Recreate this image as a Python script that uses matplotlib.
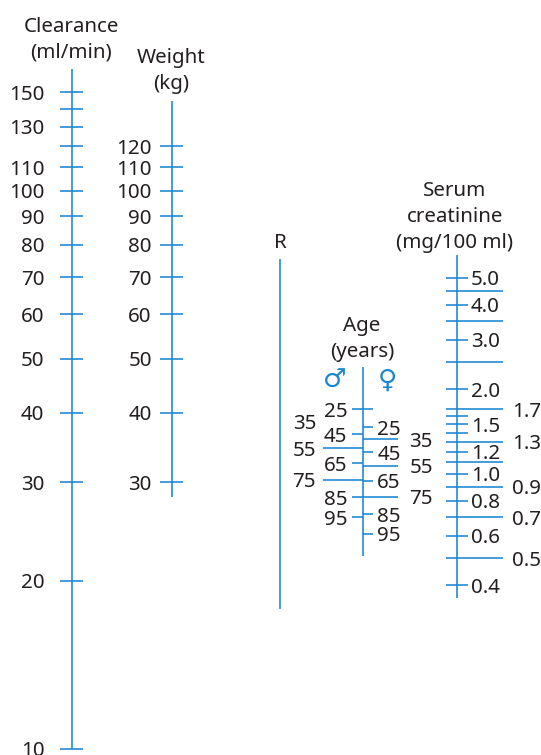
import numpy as np
import matplotlib
matplotlib.use('Agg')
import matplotlib.pyplot as plt

# ---- values on the nomogram scales ----
clearance_ticks = [10, 20, 30, 40, 50, 60, 70, 80, 90, 100, 110, 120, 130, 140, 150]
clearance_labels = ['10', '20', '30', '40', '50', '60', '70', '80', '90', '100',
                    '110', '', '130', '', '150']
clearance_span = (10, 165)

weight_ticks = [30, 40, 50, 60, 70, 80, 90, 100, 110, 120]
weight_span = (28.3, 145)

male_ticks = [25, 45, 65, 85, 95]
male_cross = [25]
male_mid = [35, 55, 75]
male_mid_lines = [55, 75]
female_ticks = [25, 45, 65, 85, 95]
female_mid = [35, 55, 75]
age_span = (-15, 112)

creat_ticks = [5.0, 4.0, 3.0, 2.0, 1.6, 1.5, 1.4, 1.2, 1.0, 0.8, 0.6, 0.4]
creat_labels = ['5.0', '4.0', '3.0', '2.0', '', '1.5', '', '1.2', '1.0', '0.8', '0.6', '0.4']
creat_mid = [4.5, 3.5, 2.5, 1.7, 1.3, 1.1, 0.9, 0.7, 0.5]
creat_mid_labels = ['', '', '', '1.7', '1.3', '', '0.9', '0.7', '0.5']
creat_span = (0.36, 6.0)

# ---- look ----
W, H = 541, 755
BLUE = '#1a86cf'
INK = '#231f20'
LW = 1.15
FS = 14.8
plt.rcParams['font.family'] = ['Noto Sans', 'DejaVu Sans']

fig = plt.figure(figsize=(W / 100, H / 100), dpi=100)

# pixel layer for titles and the blank R line
ax0 = fig.add_axes([0, 0, 1, 1])
ax0.set_xlim(0, W)
ax0.set_ylim(H, 0)
ax0.axis('off')


def scale_axes(fwd, inv, a, b, **scale_kw):
    # full-figure axes whose y scale puts value a[0] at pixel row a[1], b[0] at b[1]
    ax = fig.add_axes([0, 0, 1, 1])
    ax.set_yscale(**scale_kw)
    ax.set_xlim(0, W)
    (v1, p1), (v2, p2) = a, b
    k = (fwd(v2) - fwd(v1)) / (p2 - p1)
    ax.set_ylim(inv(fwd(v1) + (H - p1) * k), inv(fwd(v1) - p1 * k))
    ax.axis('off')
    ax.patch.set_visible(False)
    return ax


log10 = np.log10
pow10 = lambda f: 10 ** f
age_fwd = lambda a: -np.log10(187 - np.asarray(a, float))
age_inv = lambda f: 187 - 10 ** (-np.asarray(f, float))

ax_cw = scale_axes(log10, pow10, (10, 748.7), (150, 92.3), value='log')
ax_cr = scale_axes(log10, pow10, (0.4, 585.3), (5.0, 277.7), value='log')
ax_m = scale_axes(age_fwd, age_inv, (25, 409.1), (95, 517.1),
                  value='function', functions=(age_fwd, age_inv))
ax_f = scale_axes(age_fwd, age_inv, (25, 427.5), (95, 533.8),
                  value='function', functions=(age_fwd, age_inv))

txt = dict(color=INK, fontsize=FS, va='center_baseline')
ln = dict(color=BLUE, lw=LW)

# clearance
ax_cw.vlines(72, *clearance_span, **ln)
ax_cw.hlines(clearance_ticks, 60, 83.3, **ln)
for v, s in zip(clearance_ticks, clearance_labels):
    ax_cw.text(44.3, v, s, ha='right', **txt)

# weight
ax_cw.vlines(171.7, *weight_span, **ln)
ax_cw.hlines(weight_ticks, 160, 182.7, **ln)
for v in weight_ticks:
    ax_cw.text(151.7, v, str(v), ha='right', **txt)

# R
ax0.vlines(280, 259, 609, **ln)

# age, male side
ax_m.vlines(362.7, *age_span, **ln)
ax_m.hlines(male_ticks, 351.7, 362.7, **ln)
ax_m.hlines(male_cross, 362.7, 373.3, **ln)
ax_m.hlines(male_mid_lines, 323.3, 362.7, **ln)
for v in male_ticks:
    ax_m.text(347.3, v, str(v), ha='right', **txt)
for v in male_mid:
    ax_m.text(316, v, str(v), ha='right', **txt)

# age, female side
ax_f.hlines(female_ticks, 362.7, 373.3, **ln)
ax_f.hlines(female_mid, 362.7, 398.3, **ln)
for v in female_ticks:
    ax_f.text(377.3, v, str(v), ha='left', **txt)
for v in female_mid:
    ax_f.text(409.3, v, str(v), ha='left', **txt)

# serum creatinine
ax_cr.vlines(456.7, *creat_span, **ln)
ax_cr.hlines(creat_ticks, 445.7, 468.3, **ln)
ax_cr.hlines(creat_mid, 445.7, 502.7, **ln)
for v, s in zip(creat_ticks, creat_labels):
    ax_cr.text(470.7, v, s, ha='left', **txt)
for v, s in zip(creat_mid, creat_mid_labels):
    ax_cr.text(511.7, v, s, ha='left', **txt)

# titles
titles = [
    (71, 24, ['Clearance', '(ml/min)']),
    (171.5, 55, ['Weight', '(kg)']),
    (280, 240, ['R']),
    (362, 324, ['Age', '(years)']),
    (455, 188.3, ['Serum', 'creatinine', '(mg/100 ml)']),
]
for x, y, lines in titles:
    for i, s in enumerate(lines):
        ax0.text(x, y + i * 26, s, ha='center', **txt)

ax0.text(335, 380.7, '\u2642', ha='center', va='center', color=BLUE, fontsize=19,
         family=['DejaVu Sans'])
ax0.text(387.3, 380.7, '\u2640', ha='center', va='center', color=BLUE, fontsize=19,
         family=['DejaVu Sans'])

fig.savefig('out.png', dpi=100)
